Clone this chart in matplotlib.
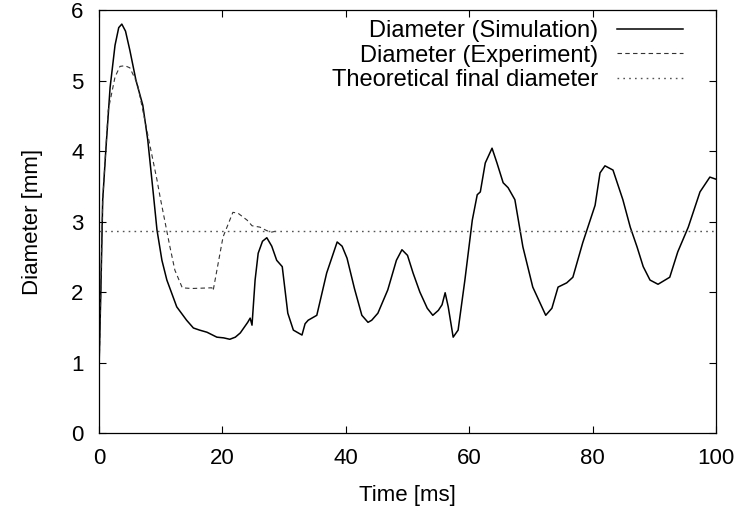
import matplotlib
matplotlib.use("Agg")
import matplotlib.pyplot as plt

# 直径随时间变化（数值读自原图）
sim_t = [0, 0.3, 0.6, 1.1, 1.8, 2.6, 3.2, 3.7, 4.3, 5.0, 6.0, 7.1, 7.9, 8.8, 9.4,
         10.2, 11.0, 12.6, 14.2, 15.3, 16.3, 17.5, 19.1, 20.2, 21.2, 22.1, 22.9,
         24.1, 24.5, 24.8, 25.3, 25.8, 26.5, 27.2, 28.0, 28.8, 29.7, 30.6, 31.5,
         32.9, 33.4, 33.9, 35.3, 36.9, 38.6, 39.4, 40.2, 41.4, 42.6, 43.6, 44.2,
         45.2, 46.8, 48.2, 49.1, 50.0, 50.9, 52.0, 53.2, 54.1, 55.0, 55.6, 56.1,
         56.6, 57.4, 58.2, 59.3, 60.5, 61.3, 61.8, 62.6, 63.7, 64.5, 65.5, 66.3,
         67.4, 68.7, 70.3, 72.4, 73.4, 74.4, 75.8, 76.8, 78.4, 80.4, 81.2, 82.0,
         83.3, 84.9, 86.1, 87.2, 88.2, 89.3, 90.6, 92.5, 93.8, 95.5, 97.4, 99.0,
         100]
sim_d = [0.9, 2.0, 3.3, 4.0, 4.9, 5.5, 5.75, 5.8, 5.7, 5.43, 5.0, 4.65, 4.16, 3.4,
         2.88, 2.45, 2.17, 1.79, 1.60, 1.49, 1.46, 1.43, 1.36, 1.35, 1.33, 1.36,
         1.42, 1.57, 1.63, 1.53, 2.17, 2.55, 2.72, 2.77, 2.65, 2.45, 2.36, 1.70,
         1.46, 1.39, 1.55, 1.60, 1.67, 2.27, 2.71, 2.65, 2.48, 2.05, 1.67, 1.57,
         1.60, 1.70, 2.03, 2.45, 2.60, 2.52, 2.27, 2.00, 1.77, 1.67, 1.74, 1.82,
         1.99, 1.79, 1.36, 1.46, 2.17, 3.02, 3.38, 3.42, 3.83, 4.04, 3.83, 3.55,
         3.48, 3.31, 2.64, 2.07, 1.67, 1.77, 2.07, 2.13, 2.21, 2.70, 3.23, 3.69,
         3.79, 3.73, 3.31, 2.92, 2.64, 2.36, 2.17, 2.11, 2.21, 2.57, 2.92, 3.42,
         3.63, 3.6]

exp_t = [0, 0.6, 1.5, 2.6, 3.4, 4.2, 5.0, 6.2, 7.1, 8.3, 9.4, 9.9, 11.5, 12.3,
         13.5, 15.0, 18.3, 18.5, 20.1, 21.7, 22.5, 24.0, 24.8, 26.1, 27.2, 28.0,
         29.0]
exp_d = [0.8, 3.3, 4.58, 5.05, 5.2, 5.21, 5.18, 4.96, 4.58, 4.06, 3.59, 3.35,
         2.64, 2.31, 2.06, 2.05, 2.06, 2.02, 2.78, 3.13, 3.12, 3.02, 2.94, 2.92,
         2.87, 2.85, 2.87]

theory_d = 2.87

x_ticks = [0, 20, 40, 60, 80, 100]
y_ticks = [0, 1, 2, 3, 4, 5, 6]

plt.rcParams['font.family'] = ['Liberation Sans', 'DejaVu Sans']
plt.rcParams['font.size'] = 16

fig = plt.figure(figsize=(7.42, 5.18), dpi=100)
ax = fig.add_axes([0.1334, 0.164, 0.8316, 0.8167])

ax.plot(sim_t, sim_d, color='black', lw=1.1, label='Diameter (Simulation)')
ax.plot(exp_t, exp_d, color='#333333', lw=0.8, dashes=(4, 3),
        label='Diameter (Experiment)')
ax.axhline(theory_d, color='#555555', lw=1.0, dashes=(1.2, 3.0),
           label='Theoretical final diameter')

ax.set_xlim(0, 100)
ax.set_ylim(0, 6)
ax.set_xticks(x_ticks)
ax.set_yticks(y_ticks)
ax.tick_params(direction='in', length=5, width=0.8, top=True, right=True, pad=11)
for s in ax.spines.values():
    s.set_linewidth(0.9)

ax.set_xlabel('Time [ms]', labelpad=11)
ax.set_ylabel('Diameter [mm]', labelpad=20)

ax.legend(loc='upper right', bbox_to_anchor=(0.9465, 0.976), frameon=False,
          markerfirst=False, handlelength=2.8, handletextpad=0.8,
          labelspacing=0.1, borderaxespad=0, borderpad=0, fontsize=17)

plt.savefig('out.png', dpi=100)
